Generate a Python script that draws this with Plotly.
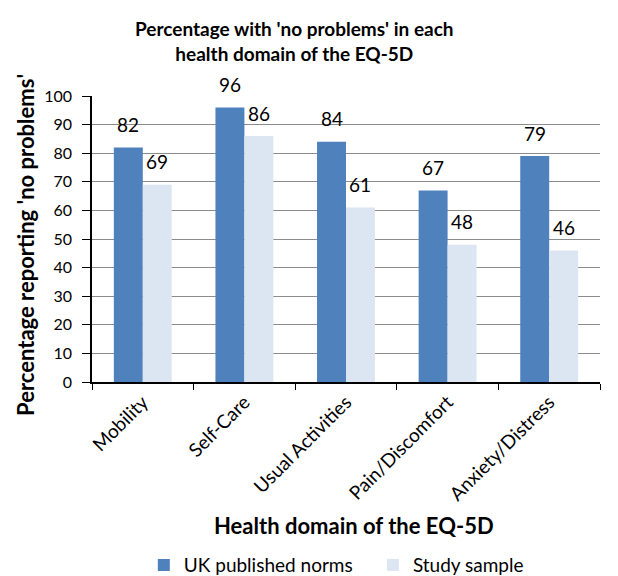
import plotly.graph_objects as go

categories = ["Mobility", "Self-Care", "Usual Activities", "Pain/Discomfort", "Anxiety/Distress"]
uk_norms = [82, 96, 84, 67, 79]
study_sample = [69, 86, 61, 48, 46]
y_ticks = [0, 10, 20, 30, 40, 50, 60, 70, 80, 90, 100]

FONT = "Lato"
BLUE = "#4F81BD"
LIGHT = "#DCE6F2"

fig = go.Figure()
fig.add_trace(go.Bar(name="UK published norms", x=categories, y=uk_norms,
                     marker=dict(color=BLUE, line=dict(width=0)), legend="legend"))
fig.add_trace(go.Bar(name="Study sample", x=categories, y=study_sample,
                     marker=dict(color=LIGHT, line=dict(width=0)), legend="legend2"))

bargap = 0.43
half = (1 - bargap) / 4
for i, (a, b) in enumerate(zip(uk_norms, study_sample)):
    for off, v in ((-half, a), (half, b)):
        fig.add_annotation(x=i + off, y=v, xref="x", yref="y", text=str(v),
                           showarrow=False, yanchor="middle", yshift=23,
                           font=dict(family=FONT, size=19, color="#000"))

# title
fig.add_annotation(text="<b>Percentage with 'no problems' in each<br>health domain of the EQ-5D</b>",
                   xref="paper", yref="paper", x=0.398, y=1.194, xanchor="center", yanchor="middle",
                   showarrow=False, font=dict(family=FONT, size=19, color="#000"))
# x axis title
fig.add_annotation(text="<b>Health domain of the EQ-5D</b>",
                   xref="paper", yref="paper", x=0.516, y=-0.5, xanchor="center", yanchor="middle",
                   showarrow=False, font=dict(family=FONT, size=22, color="#000"))
# y axis title
fig.add_annotation(text="<b>Percentage reporting 'no problems'</b>", textangle=-90,
                   xref="paper", yref="paper", x=-0.132, y=0.479, xanchor="center", yanchor="middle",
                   showarrow=False, font=dict(family=FONT, size=22, color="#000"))

legend_style = dict(orientation="h", y=-0.64, yanchor="middle", xanchor="left",
                    font=dict(family=FONT, size=19, color="#000"), bgcolor="rgba(0,0,0,0)")
fig.update_layout(
    width=610, height=568,
    margin=dict(l=84, r=18, t=88, b=194, autoexpand=False),
    paper_bgcolor="white", plot_bgcolor="white",
    barmode="group", bargap=bargap, bargroupgap=0,
    font=dict(family=FONT, color="#000"),
    legend=dict(x=0.102, **legend_style),
    legend2=dict(x=0.553, **legend_style),
    showlegend=True,
)
fig.update_xaxes(
    type="category",
    tickangle=-45, tickfont=dict(family=FONT, size=19),
    showline=True, linecolor="#000", linewidth=1.5,
    ticks="outside", tickson="boundaries", ticklen=6, tickcolor="#000",
    showgrid=False, automargin=False,
)
fig.update_yaxes(
    range=[0, 100], tickvals=y_ticks, ticktext=[str(t) for t in y_ticks],
    tickfont=dict(family=FONT, size=16),
    showline=True, linecolor="#000", linewidth=1.5,
    ticks="outside", ticklen=8, tickcolor="#000", ticklabelstandoff=7,
    showgrid=True, gridcolor="#8C8C8C", gridwidth=1,
    zeroline=False, automargin=False,
)

fig.write_html("out.html")
